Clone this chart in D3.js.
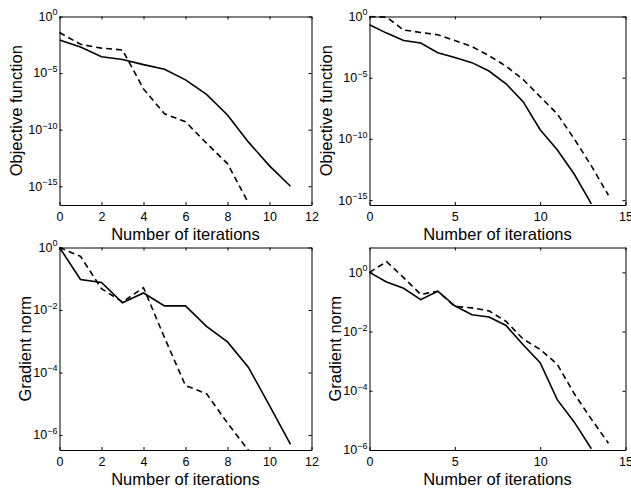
<!DOCTYPE html>
<html>
<head>
<meta charset="utf-8">
<script src="https://cdn.jsdelivr.net/npm/d3@7"></script>
<style>
body { margin: 0; background: #fff; }
svg { display: block; font-family: "Liberation Sans", Arial, sans-serif; }
</style>
</head>
<body>
<div id="chart-area"></div>
<script>
// iterations
var itersA = [0, 1, 2, 3, 4, 5, 6, 7, 8, 9, 10, 11];
var itersB = [0, 1, 2, 3, 4, 5, 6, 7, 8, 9];
var itersC = [0, 1, 2, 3, 4, 5, 6, 7, 8, 9, 10, 11, 12, 13];
var itersD = [0, 1, 2, 3, 4, 5, 6, 7, 8, 9, 10, 11, 12, 13, 14];

// top left: objective function
var objSolidA  = [8.5e-3, 2.0e-3, 2.8e-4, 1.6e-4, 5.6e-5, 2.2e-5, 2.5e-6, 1.3e-7, 2.0e-9, 7.9e-12, 6.3e-14, 1.0e-15];
var objDashedA = [3.8e-2, 3.5e-3, 1.6e-3, 1.1e-3, 4.0e-7, 2.5e-9, 5.0e-10, 6.3e-12, 1.0e-13, 3.2e-17];
// top right: objective function
var objSolidB  = [0.21, 4.4e-2, 1.1e-2, 6.8e-3, 1.1e-3, 4.5e-4, 1.7e-4, 3.5e-5, 3.2e-6, 1.1e-7, 5.6e-10, 1.3e-11, 1.3e-13, 5.0e-16];
var objDashedB = [1.0, 0.89, 7.9e-2, 5.0e-2, 3.2e-2, 1.1e-2, 3.5e-3, 6.3e-4, 8.9e-5, 7.1e-6, 2.8e-7, 1.1e-8, 1.0e-10, 6.3e-13, 2.5e-15];
// bottom left: gradient norm
var gradSolidA  = [1.0, 9.5e-2, 7.6e-2, 1.7e-2, 3.5e-2, 1.35e-2, 1.35e-2, 3.0e-3, 9.5e-4, 1.45e-4, 8.7e-6, 5.0e-7];
var gradDashedA = [1.0, 0.52, 4.8e-2, 1.8e-2, 5.2e-2, 1.3e-3, 3.8e-5, 2.1e-5, 2.4e-6, 3.2e-7];
// bottom right: gradient norm
var gradSolidB  = [1.0, 0.47, 0.29, 0.12, 0.23, 7.4e-2, 3.7e-2, 3.1e-2, 1.6e-2, 3.6e-3, 8.9e-4, 5.0e-5, 8.7e-6, 1.1e-6];
var gradDashedB = [1.0, 2.3, 0.66, 0.18, 0.23, 7.1e-2, 6.3e-2, 5.0e-2, 2.2e-2, 5.6e-3, 2.5e-3, 7.9e-4, 7.9e-5, 1.1e-5, 1.7e-6];

var xTicksA = [0, 2, 4, 6, 8, 10, 12];
var xTicksB = [0, 5, 10, 15];
var objTicks = [1, 1e-5, 1e-10, 1e-15];
var gradTicks = [1, 1e-2, 1e-4, 1e-6];
var xTitle = 'Number of iterations';

var panels = [
    { left: 59.5, top: 16.5, w: 252, h: 188.5, xMax: 12, xTicks: xTicksA, yDomain: [2.2e-17, 1], yTicks: objTicks,
      title: 'Objective function', titleOff: 38, solidX: itersA, solid: objSolidA, dashedX: itersB, dashed: objDashedA },
    { left: 369.5, top: 16.5, w: 256, h: 188.5, xMax: 15, xTicks: xTicksB, yDomain: [4e-16, 1], yTicks: objTicks,
      title: 'Objective function', titleOff: 38, solidX: itersC, solid: objSolidB, dashedX: itersD, dashed: objDashedB },
    { left: 59.5, top: 247.5, w: 252, h: 202.5, xMax: 12, xTicks: xTicksA, yDomain: [3.3e-7, 1], yTicks: gradTicks,
      title: 'Gradient norm', titleOff: 29, solidX: itersA, solid: gradSolidA, dashedX: itersB, dashed: gradDashedA },
    { left: 369.5, top: 247.5, w: 256, h: 202.5, xMax: 15, xTicks: xTicksB, yDomain: [1e-6, 6.9], yTicks: gradTicks,
      title: 'Gradient norm', titleOff: 29, solidX: itersC, solid: gradSolidB, dashedX: itersD, dashed: gradDashedB }
];

var svg = d3.select('#chart-area')
    .append('svg')
    .attr('width', 631)
    .attr('height', 492);

panels.forEach(function(p, i) {
    var g = svg.append('g')
        .attr('transform', 'translate(' + p.left + ', ' + p.top + ')');

    var x = d3.scaleLinear().domain([0, p.xMax]).range([0, p.w]);
    var y = d3.scaleLog().domain(p.yDomain).range([p.h, 0]);

    g.append('clipPath')
        .attr('id', 'clip' + i)
        .append('rect')
        .attr('x', -1).attr('y', -1)
        .attr('width', p.w + 2).attr('height', p.h + 2);

    function lineFor(xs) {
        return d3.line()
            .x(function(d, j) { return x(xs[j]); })
            .y(function(d) { return y(d); });
    }

    g.append('path')
        .datum(p.dashed)
        .attr('d', lineFor(p.dashedX))
        .attr('clip-path', 'url(#clip' + i + ')')
        .attr('fill', 'none')
        .attr('stroke', '#000')
        .attr('stroke-width', 1.6)
        .attr('stroke-dasharray', '6,4');

    g.append('path')
        .datum(p.solid)
        .attr('d', lineFor(p.solidX))
        .attr('clip-path', 'url(#clip' + i + ')')
        .attr('fill', 'none')
        .attr('stroke', '#000')
        .attr('stroke-width', 1.6);

    // box with inward ticks on every side
    var bottom = g.append('g')
        .attr('transform', 'translate(0, ' + p.h + ')')
        .call(d3.axisBottom(x).tickValues(p.xTicks).tickSizeInner(-3).tickSizeOuter(0).tickPadding(7));
    bottom.selectAll('text').attr('font-size', '12.5px').attr('fill', '#000');

    g.append('g')
        .call(d3.axisTop(x).tickValues(p.xTicks).tickSizeInner(-3).tickSizeOuter(0).tickFormat(''));
    g.append('g')
        .call(d3.axisLeft(y).tickValues(p.yTicks).tickSizeInner(-3).tickSizeOuter(0).tickFormat(''));
    g.append('g')
        .attr('transform', 'translate(' + p.w + ', 0)')
        .call(d3.axisRight(y).tickValues(p.yTicks).tickSizeInner(-3).tickSizeOuter(0).tickFormat(''));

    g.selectAll('.domain').attr('stroke', '#000');
    g.selectAll('.tick line').attr('stroke', '#000');
    g.selectAll('g').attr('font-family', null);

    // y tick labels as 10 with superscript exponent
    var lab = g.selectAll('.ylab')
        .data(p.yTicks)
        .enter()
        .append('text')
        .attr('class', 'ylab')
        .attr('x', -2)
        .attr('y', function(d) { return y(d); })
        .attr('dy', '0.35em')
        .attr('text-anchor', 'end')
        .attr('font-size', '12.5px');
    lab.append('tspan').text('10');
    lab.append('tspan')
        .attr('dy', '-0.6em')
        .attr('font-size', '9px')
        .text(function(d) {
            var e = Math.round(Math.log10(d));
            return e < 0 ? '\u2212' + (-e) : String(e);
        });

    g.append('text')
        .text(xTitle)
        .attr('x', p.w / 2)
        .attr('y', p.h + 35)
        .attr('text-anchor', 'middle')
        .attr('font-size', '16.5px');

    g.append('text')
        .text(p.title)
        .attr('x', -p.h / 2)
        .attr('y', -p.titleOff)
        .attr('text-anchor', 'middle')
        .attr('font-size', '16.5px')
        .attr('transform', 'rotate(-90)');
});
</script>
</body>
</html>
